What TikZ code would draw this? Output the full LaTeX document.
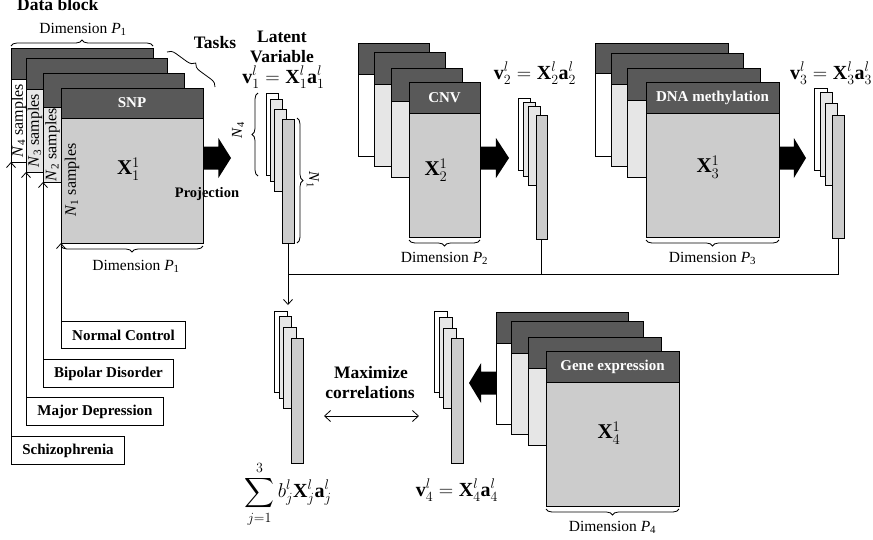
\documentclass[tikz,border=0pt]{standalone}
\usepackage{fix-cm}
\usepackage{amsmath}
\usepackage{fontspec}
\setmainfont{Liberation Serif}
\setmathrm{Liberation Serif}
\usetikzlibrary{decorations.pathreplacing,arrows.meta}

\definecolor{hdrgray}{RGB}{89,89,89}
\definecolor{lyrlight}{RGB}{230,230,230}
\definecolor{lyrmid}{RGB}{204,204,204}

\newcommand{\fbig}{\fontsize{17.5}{20}\selectfont}
\newcommand{\flab}{\fontsize{15}{18}\selectfont}
\newcommand{\fdim}{\fontsize{15.5}{18}\selectfont}
\newcommand{\fmath}{\fontsize{20}{24}\selectfont}

% one layer of a data block: name, x, y, width, height, header height, body fill, header text
\newcommand{\layer}[8]{%
  \node[lay, fill=#7, minimum width=#4pt, minimum height=#5pt] (#1) at (#2,#3) {};
  \node[hdr, minimum width=#4pt, minimum height=#6pt] (#1h) at (#2,#3) {#8};
}
% one latent-variable bar: name, x, y, width, height, fill
\newcommand{\latbar}[6]{%
  \node[lay, fill=#6, minimum width=#4pt, minimum height=#5pt] (#1) at (#2,#3) {};
}
% thick black projection arrow from x0 to x1 at height y
\newcommand{\fatarrow}[3]{%
  \pgfmathsetmacro\fam{#1+0.55*(#2-#1)}
  \fill[black] (#1,#3-11.5) -- (\fam,#3-11.5) -- (\fam,#3-20) -- (#2,#3)
    -- (\fam,#3+20) -- (\fam,#3+11.5) -- (#1,#3+11.5) -- cycle;
}

\begin{document}
\begin{tikzpicture}[x=1pt,y=-1pt,
  lay/.style={draw=black, line width=1pt, anchor=north west, inner sep=0pt, outer sep=0pt},
  hdr/.style={lay, fill=hdrgray, text=white, font=\flab\bfseries},
  bigb/.style={font=\fbig\bfseries, inner sep=0pt, anchor=base},
  labbox/.style={draw=black, line width=1pt, anchor=north west, inner sep=0pt, font=\flab\bfseries},
  dimtxt/.style={font=\fdim, inner sep=0pt, anchor=base},
  samp/.style={font=\fontsize{16}{19}\selectfont, inner sep=0pt, rotate=90},
  fml/.style={font=\fmath, inner sep=0pt, anchor=base},
  xlab/.style={font=\fontsize{21}{25}\selectfont, inner sep=0pt},
  brc/.style={decorate, decoration={brace, amplitude=6pt}, line width=0.8pt},
  conn/.style={line width=0.8pt},
  arr/.style={conn, -{Straight Barb[length=5pt,width=9pt]}},
  dblarr/.style={conn, {Straight Barb[length=6pt,width=11pt]}-{Straight Barb[length=6pt,width=11pt]}}
]
\useasboundingbox (0,0) rectangle (873,539);

% ---------- SNP data block ----------
\node[bigb, anchor=base west] (title) at (17,10) {Data block};
\layer{S1}{11}{48}{142}{114}{31}{white}{}
\layer{S2}{26}{58}{141}{114}{31}{lyrlight}{}
\layer{S3}{43}{73}{141}{109}{34}{lyrlight}{}
\layer{S4}{61}{88}{142}{155}{30}{lyrmid}{SNP}
\node[samp] (n4s) at (19,120.5) {\textit{N}\textsubscript{4} samples};
\node[samp] (n3s) at (35,130.5) {\textit{N}\textsubscript{3} samples};
\node[samp] (n2s) at (52.5,144.5) {\textit{N}\textsubscript{2} samples};
\node[samp] (n1s) at (72,180) {\textit{N}\textsubscript{1} samples};
\node[xlab] (x11) at (128.5,169) {$\mathbf{X}_1^1$};

\draw[brc] (11,46) -- (153,46);
\node[dimtxt] (dimtop) at (83,33) {Dimension \textit{P}\textsubscript{1}};
\draw[brc] (203,246) -- (61,246);
\node[dimtxt] (dimS) at (136,270) {Dimension \textit{P}\textsubscript{1}};

\draw[brc, decoration={amplitude=8pt}] (167,52) -- (215,87);
\node[bigb] (tasks) at (215,48) {Tasks};

\fatarrow{203}{231}{158}
\node[font=\fontsize{14.5}{17}\selectfont\bfseries, inner sep=0pt, anchor=base] (proj) at (207,197) {Projection};

% group labels
\node[labbox, minimum width=124pt, minimum height=27pt] (nc) at (61,321) {Normal Control};
\node[labbox, minimum width=130pt, minimum height=28pt] (bd) at (43,359) {Bipolar Disorder};
\node[labbox, minimum width=137pt, minimum height=28pt] (md) at (26,397) {Major Depression};
\node[labbox, minimum width=113pt, minimum height=28pt] (sz) at (11,436) {Schizophrenia};
\draw[arr] (nc.north west) -- (S4.south west);
\draw[arr] (bd.north west) -- (S3.south west);
\draw[arr] (md.north west) -- (S2.south west);
\draw[arr] (sz.north west) -- (S1.south west);

% latent variable of block 1
\node[bigb] (lat1) at (282,42) {Latent};
\node[bigb] (lat2) at (282,62) {Variable};
\node[fml] (v1) at (283.5,83) {$\mathbf{v}_1^l = \mathbf{X}_1^l\mathbf{a}_1^l$};
\latbar{a1}{266}{93}{12}{82}{white}
\latbar{a2}{270}{99}{12}{82}{lyrlight}
\latbar{a3}{274}{109}{12}{82}{lyrlight}
\latbar{a4}{282}{119}{12}{124}{lyrmid}
\draw[brc] (258,176) -- (258,93);
\node[font=\fontsize{15}{18}\selectfont, inner sep=0pt, rotate=90] (n4) at (238,130) {\textit{N}\textsubscript{4}};
\draw[brc] (297,118) -- (297,243);
\node[font=\fontsize{15}{18}\selectfont, inner sep=0pt, rotate=-90] (n1) at (313,180) {\textit{N}\textsubscript{1}};

% ---------- CNV data block ----------
\layer{C1}{358}{43}{71}{113}{31}{white}{}
\layer{C2}{374}{52}{71}{114}{32}{lyrlight}{}
\layer{C3}{391}{68}{71}{109}{33}{lyrlight}{}
\layer{C4}{409}{82}{71}{155}{31}{lyrmid}{CNV}
\node[xlab] (x21) at (436,170) {$\mathbf{X}_2^1$};
\draw[brc] (480,240) -- (409,240);
\node[dimtxt] (dimC) at (444.5,262) {Dimension \textit{P}\textsubscript{2}};
\fatarrow{480}{509}{158}
\node[fml] (v2) at (535,79) {$\mathbf{v}_2^l = \mathbf{X}_2^l\mathbf{a}_2^l$};
\latbar{b1}{518}{98}{12}{72}{white}
\latbar{b2}{523}{102}{12}{74}{lyrlight}
\latbar{b3}{528}{106}{12}{79}{lyrlight}
\latbar{b4}{536}{115}{11}{124}{lyrmid}

% ---------- DNA methylation data block ----------
\layer{D1}{595}{43}{133}{113}{30}{white}{}
\layer{D2}{611}{53}{132}{113}{31}{lyrlight}{}
\layer{D3}{627}{68}{133}{109}{32}{lyrlight}{}
\layer{D4}{646}{82}{133}{155}{31}{lyrmid}{DNA methylation}
\node[xlab] (x31) at (708,167) {$\mathbf{X}_3^1$};
\draw[brc] (779,240) -- (646,240);
\node[dimtxt] (dimD) at (712.5,262) {Dimension \textit{P}\textsubscript{3}};
\fatarrow{779}{806}{158}
\node[fml] (v3) at (831,79) {$\mathbf{v}_3^l = \mathbf{X}_3^l\mathbf{a}_3^l$};
\latbar{e1}{814}{88}{13}{82}{white}
\latbar{e2}{820}{92}{12}{84}{lyrlight}
\latbar{e3}{825}{103}{12}{82}{lyrlight}
\latbar{e4}{832}{115}{12}{123}{lyrmid}

% ---------- collecting the latent variables ----------
\coordinate (cin) at (288,305);
\draw[conn] (b4.south) -- (b4.south |- 0,274);
\draw[conn] (e4.south) -- (e4.south |- 0,274) -- (a4.south |- 0,274);
\draw[arr] (a4.south) -- (cin);

\latbar{c1}{274}{311}{13}{81}{white}
\latbar{c2}{279}{316}{12}{82}{lyrlight}
\latbar{c3}{283}{327}{13}{81}{lyrlight}
\latbar{c4}{291}{338}{12}{125}{lyrmid}
\node[font=\fmath, inner sep=0pt] (sumf) at (288,494) {$\displaystyle\sum_{j=1}^{3} b_j^l\mathbf{X}_j^l\mathbf{a}_j^l$};

\node[bigb] (max1) at (371,378) {Maximize};
\node[bigb] (max2) at (370,398) {correlations};
\coordinate (mcL) at (324,416);
\coordinate (mcR) at (419,416);
\draw[dblarr] (mcL) -- (mcR);

\latbar{d1}{434}{311}{13}{81}{white}
\latbar{d2}{439}{317}{13}{80}{lyrlight}
\latbar{d3}{443}{328}{13}{80}{lyrlight}
\latbar{d4}{451}{338}{12}{125}{lyrmid}
\node[fml] (v4) at (457,496) {$\mathbf{v}_4^l = \mathbf{X}_4^l\mathbf{a}_4^l$};

% ---------- gene expression data block ----------
\layer{G1}{496}{312}{132}{112}{31}{white}{}
\layer{G2}{511}{321}{132}{113}{32}{lyrlight}{}
\layer{G3}{528}{337}{133}{108}{31}{lyrlight}{}
\layer{G4}{546}{351}{133}{155}{31}{lyrmid}{Gene expression}
\node[xlab] (x41) at (609,433) {$\mathbf{X}_4^1$};
\draw[brc] (679,509) -- (546,509);
\node[dimtxt] (dimG) at (612.5,531) {Dimension \textit{P}\textsubscript{4}};
\fatarrow{496}{469}{383}
\end{tikzpicture}
\end{document}
